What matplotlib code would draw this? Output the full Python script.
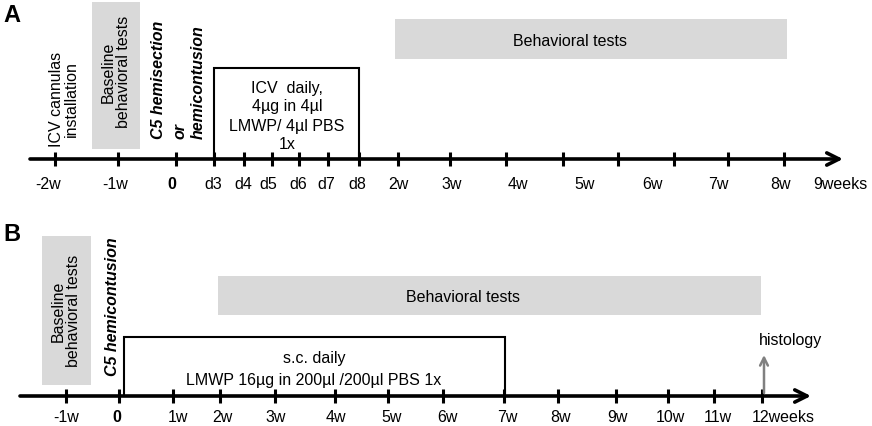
import matplotlib.pyplot as plt
from matplotlib.patches import Rectangle

plt.rcParams['font.family'] = ['Liberation Sans', 'DejaVu Sans']

# panel A timeline (pixel positions)
a_tick_x = [55, 118, 176, 214, 244, 272, 299, 328, 359, 398, 450, 506, 563, 618, 674, 728, 784]
a_labels = ['-2w', '-1w', '0', 'd3', 'd4', 'd5', 'd6', 'd7', 'd8', '2w', '3w', '4w', '5w', '6w', '7w', '8w', '9weeks']
a_label_x = [48, 115, 172, 213, 243, 268, 298, 326, 357, 398, 452, 518, 585, 652, 718, 780, 840]

# panel B timeline
b_tick_x = [66, 119, 173, 220, 275, 335, 388, 443, 504, 558, 616, 668, 714, 762]
b_labels = ['-1w', '0', '1w', '2w', '3w', '4w', '5w', '6w', '7w', '8w', '9w', '10w', '11w', '12weeks']
b_label_x = [66, 117, 178, 222, 276, 336, 392, 447, 507, 560, 617, 670, 718, 783]

W, H = 872, 427
fig = plt.figure(figsize=(W / 100, H / 100), dpi=100)
ax = fig.add_axes([0, 0, 1, 1])
ax.set_xlim(0, W)
ax.set_ylim(H, 0)
ax.axis('off')

fs = 11.5
gray = '#d9d9d9'


def timeline(y, x0, x1, ticks, labels, label_x, label_y, bold_label):
    ax.annotate('', xy=(x1, y), xytext=(x0, y),
                arrowprops=dict(arrowstyle='->', lw=2.6, color='black',
                                mutation_scale=22, shrinkA=0, shrinkB=0))
    for t in ticks:
        ax.plot([t, t], [y - 7, y + 7], color='black', lw=2.2, solid_capstyle='butt')
    for lx, lab in zip(label_x, labels):
        ax.text(lx, label_y, lab, ha='center', va='center', fontsize=fs,
                fontweight='bold' if lab == bold_label else 'normal')


# ---------------- A ----------------
ax.text(3, 16, 'A', fontsize=17, fontweight='bold', va='center', ha='left')
ax.add_patch(Rectangle((92, 3), 48, 147, color=gray, lw=0))
ax.add_patch(Rectangle((395, 20), 392, 40, color=gray, lw=0))
ax.text(570, 41, 'Behavioral tests', ha='center', va='center', fontsize=fs)
ax.add_patch(Rectangle((214, 69), 145, 91, facecolor='white', edgecolor='black', lw=1.5))
for yy, s in zip([88, 107, 126, 145], ['ICV  daily,', '4µg in 4µl', 'LMWP/ 4µl PBS', '1x']):
    ax.text(287, yy, s, ha='center', va='center', fontsize=fs)
timeline(160, 30, 843, a_tick_x, a_labels, a_label_x, 185, '0')
ax.text(64, 147, 'ICV cannulas\ninstallation', rotation=90, ha='center', va='bottom',
        fontsize=fs, multialignment='center', linespacing=1.05)
ax.text(116, 72, 'Baseline\nbehavioral tests', rotation=90, ha='center', va='center',
        fontsize=fs, multialignment='center', linespacing=1.05)
for xx, s in zip([158, 180, 198], ['C5 hemisection', 'or', 'hemicontusion']):
    ax.text(xx, 139, s, rotation=90, ha='center', va='bottom', fontsize=fs,
            fontweight='bold', fontstyle='italic')

# ---------------- B ----------------
ax.text(3, 235, 'B', fontsize=17, fontweight='bold', va='center', ha='left')
ax.add_patch(Rectangle((42, 237), 49, 149, color=gray, lw=0))
ax.text(66, 311, 'Baseline\nbehavioral tests', rotation=90, ha='center', va='center',
        fontsize=fs, multialignment='center', linespacing=1.05)
ax.add_patch(Rectangle((218, 277), 543, 39, color=gray, lw=0))
ax.text(463, 298, 'Behavioral tests', ha='center', va='center', fontsize=fs)
ax.add_patch(Rectangle((124, 338), 381, 59, facecolor='white', edgecolor='black', lw=1.5))
ax.text(314, 359, 's.c. daily', ha='center', va='center', fontsize=fs)
ax.text(314, 381, 'LMWP 16µg in 200µl /200µl PBS 1x', ha='center', va='center', fontsize=fs)
timeline(397, 20, 811, b_tick_x, b_labels, b_label_x, 418, '0')
ax.text(112, 376, 'C5 hemicontusion', rotation=90, ha='center', va='bottom', fontsize=fs,
        fontweight='bold', fontstyle='italic')
ax.text(759, 341, 'histology', ha='left', va='center', fontsize=fs)
ax.annotate('', xy=(764, 356), xytext=(764, 394),
            arrowprops=dict(arrowstyle='->', lw=1.8, color='#808080',
                            mutation_scale=14, shrinkA=0, shrinkB=0))

fig.savefig('out.png', dpi=100)
